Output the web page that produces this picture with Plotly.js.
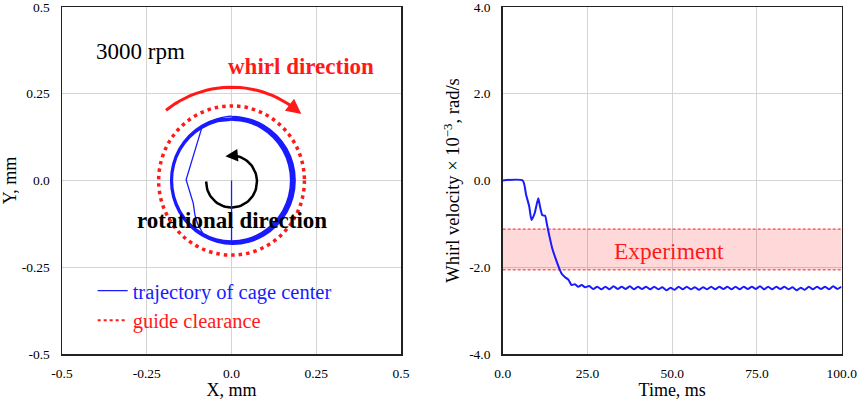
<!DOCTYPE html>
<html><head><meta charset="utf-8">
<script src="https://cdn.plot.ly/plotly-3.0.1.min.js"></script>
<style>html,body{margin:0;padding:0;background:#fff}#chart{width:858px;height:400px}</style>
</head><body><div id="chart"></div>
<script>
// ---------- Left panel: cage-center trajectory (mm) ----------
const transientX = [0, 0, 0, -0.040, -0.080, -0.100, -0.108, -0.113, -0.134, -0.088, -0.050, 0.000];
const transientY = [0, -0.050, -0.178, -0.175, -0.160, -0.125, -0.099, -0.065, 0.002, 0.151, 0.172, 0.176];
// steady orbits, sampled clockwise (angle in degrees), radius and x-shift per orbit
const orbitAnglesDeg = [90, 75, 60, 45, 30, 15, 0, -15, -30, -45, -60, -75, -90, -105, -120, -135, -150, -165, -180, -195, -210, -225, -240, -255, -270];
const orbitRadius = [0.174, 0.176, 0.178, 0.180, 0.182, 0.184, 0.179];
const orbitShiftX = [0.000, 0.001, 0.002, 0.003, 0.004, 0.004, 0.003];
const guideRadius = 0.215;
const xyTickVals = [-0.5, -0.25, 0, 0.25, 0.5];
const xyTickText = ['-0.5', '-0.25', '0.0', '0.25', '0.5'];

// ---------- Right panel: whirl velocity ----------
const timeMs = [0, 5.9, 6.9, 7.8, 8.5, 9.4, 10.5, 11.0, 11.7, 12.5, 13.0, 13.8, 14.6, 15.7, 16.7, 17.5, 18.4, 19.4, 20.3, 21.3, 22.3, 23.3, 24.3,
  25.5, 26.7, 27.9, 29.1, 30.3, 31.5, 32.7, 33.9, 35.1, 36.3,
  37.5, 38.7, 39.9, 41.1, 42.3, 43.5, 44.7, 45.9, 47.1, 48.3,
  49.5, 50.7, 51.9, 53.1, 54.3, 55.5, 56.7, 57.9, 59.1, 60.3,
  61.5, 62.7, 63.9, 65.1, 66.3, 67.5, 68.7, 69.9, 71.1, 72.3,
  73.5, 74.7, 75.9, 77.1, 78.3, 79.5, 80.7, 81.9, 83.1, 84.3,
  85.5, 86.7, 87.9, 89.1, 90.3, 91.5, 92.7, 93.9, 95.1, 96.3,
  97.5, 98.7, 99.9];
const whirlVel = [0, 0, -0.33, -0.59, -0.91, -0.76, -0.41, -0.60, -0.80, -0.81, -0.99, -1.29, -1.56, -1.82, -2.03, -2.16, -2.23, -2.29, -2.41, -2.39, -2.45, -2.41, -2.46,
  -2.43, -2.50, -2.45, -2.51, -2.45, -2.51, -2.44, -2.50, -2.45, -2.50,
  -2.44, -2.51, -2.45, -2.50, -2.45, -2.51, -2.45, -2.51, -2.46, -2.53,
  -2.47, -2.52, -2.45, -2.51, -2.45, -2.51, -2.46, -2.52, -2.46, -2.51,
  -2.45, -2.51, -2.45, -2.50, -2.45, -2.51, -2.45, -2.51, -2.45, -2.50,
  -2.45, -2.50, -2.44, -2.51, -2.45, -2.51, -2.45, -2.50, -2.45, -2.51,
  -2.46, -2.53, -2.47, -2.52, -2.45, -2.51, -2.45, -2.50, -2.45, -2.51,
  -2.44, -2.50, -2.45];
const expLow = -2.06, expHigh = -1.12;
const expRange = [0, 100];
const tTickVals = [0, 25, 50, 75, 100];
const tTickText = ['0.0', '25.0', '50.0', '75.0', '100.0'];
const vTickVals = [-4, -2, 0, 2, 4];
const vTickText = ['-4.0', '-2.0', '0.0', '2.0', '4.0'];

// ---------- build ----------
const FONT = 'Liberation Serif';
const BLUE = '#1a1aff', RED = '#ff1a1a';
const rad = d => d * Math.PI / 180;

const orbitX = [], orbitY = [];
orbitRadius.forEach((r, i) => {
  orbitAnglesDeg.forEach(a => { orbitX.push(orbitShiftX[i] + r * Math.cos(rad(a))); orbitY.push(r * Math.sin(rad(a))); });
});

// decorative direction arrows (geometry only)
function arc(cx, cy, r, a0, a1, step) {
  const xs = [], ys = [];
  const n = Math.round(Math.abs(a1 - a0) / step);
  for (let k = 0; k <= n; k++) { const a = a0 + (a1 - a0) * k / n; xs.push(cx + r * Math.cos(rad(a))); ys.push(cy + r * Math.sin(rad(a))); }
  return {xs, ys};
}
const whirlArc = {cx: 0, cy: -0.045, r: 0.314, a0: 128, a1: 55, tip: 49};
const rotArc = {cx: 0, cy: -0.003, r: 0.075, a0: -180, a1: 88, tip: 104};
const wa = arc(whirlArc.cx, whirlArc.cy, whirlArc.r, whirlArc.a0, whirlArc.a1, 3);
const ra = arc(rotArc.cx, rotArc.cy, rotArc.r, rotArc.a0, rotArc.a1, 4);
const pt = (o, a) => [o.cx + o.r * Math.cos(rad(a)), o.cy + o.r * Math.sin(rad(a))];

const span = (c, t) => '<span style="color:' + c + ';font-family:' + FONT + '">' + t + '</span>';

const traces = [
  {x: wa.xs, y: wa.ys, xaxis: 'x', yaxis: 'y', mode: 'lines', line: {color: RED, width: 3}, showlegend: false, hoverinfo: 'skip'},
  {x: ra.xs, y: ra.ys, xaxis: 'x', yaxis: 'y', mode: 'lines', line: {color: '#000', width: 2.5}, showlegend: false, hoverinfo: 'skip'},
  {x: transientX, y: transientY, xaxis: 'x', yaxis: 'y', mode: 'lines', line: {color: BLUE, width: 1.3}, showlegend: false},
  {x: orbitX, y: orbitY, xaxis: 'x', yaxis: 'y', mode: 'lines', line: {color: BLUE, width: 1.2, shape: 'spline', smoothing: 1},
   name: span(BLUE, 'trajectory of cage center')},
  {x: [null], y: [null], xaxis: 'x', yaxis: 'y', mode: 'lines', line: {color: RED, width: 2, dash: 'dot'},
   name: span(RED, 'guide clearance')},
  {x: expRange, y: [expLow, expLow], xaxis: 'x2', yaxis: 'y2', mode: 'lines', line: {color: RED, width: 1, dash: '3px,2px'}, showlegend: false},
  {x: expRange, y: [expHigh, expHigh], xaxis: 'x2', yaxis: 'y2', mode: 'lines', line: {color: RED, width: 1, dash: '3px,2px'},
   fill: 'tonexty', fillcolor: 'rgba(255,0,0,0.15)', showlegend: false},
  {x: timeMs, y: whirlVel, xaxis: 'x2', yaxis: 'y2', mode: 'lines', line: {color: BLUE, width: 2, shape: 'spline', smoothing: 0.6}, showlegend: false}
];

const axBase = {showgrid: true, gridcolor: '#d4d4d4', gridwidth: 1, zeroline: false, showline: true, mirror: true,
  linecolor: '#222', linewidth: 1.5, ticks: '', tickmode: 'array', tickfont: {family: FONT, size: 13.5, color: '#000'},
  ticklabeloverflow: 'allow', automargin: false, fixedrange: true};

const wTip = pt(whirlArc, whirlArc.tip), wTail = pt(whirlArc, whirlArc.a1 + 2);
const rTip = pt(rotArc, rotArc.tip), rTail = pt(rotArc, rotArc.a1 - 2);

const layout = {
  width: 858, height: 400, margin: {l: 0, r: 0, t: 7, b: 46},
  paper_bgcolor: '#fff', plot_bgcolor: '#fff',
  font: {family: FONT, color: '#000'},
  xaxis: Object.assign({}, axBase, {domain: [0.0723, 0.4674], range: [-0.5, 0.5], tickvals: xyTickVals, ticktext: xyTickText,
    anchor: 'y', ticklabelstandoff: 6, title: {text: 'X, mm', font: {family: FONT, size: 18}, standoff: 2}}),
  yaxis: Object.assign({}, axBase, {domain: [0, 1], range: [-0.5, 0.5], tickvals: xyTickVals, ticktext: xyTickText,
    anchor: 'x', ticklabelstandoff: 8, title: {text: 'Y, mm', font: {family: FONT, size: 18}, standoff: 6}}),
  xaxis2: Object.assign({}, axBase, {domain: [0.5859, 0.981], range: [0, 100], tickvals: tTickVals, ticktext: tTickText,
    anchor: 'y2', ticklabelstandoff: 6, title: {text: 'Time, ms', font: {family: FONT, size: 18}, standoff: 2}}),
  yaxis2: Object.assign({}, axBase, {domain: [0, 1], range: [-4, 4], tickvals: vTickVals, ticktext: vTickText,
    anchor: 'x2', ticklabelstandoff: 8, title: {text: 'Whirl velocity × 10<sup>−3</sup>, rad/s', font: {family: FONT, size: 18.5}, standoff: 4}}),
  shapes: [
    {type: 'circle', xref: 'x', yref: 'y', x0: -guideRadius, x1: guideRadius, y0: -guideRadius, y1: guideRadius,
     line: {color: RED, width: 3.5, dash: '3.5px,4px'}, layer: 'above'}
  ],
  legend: {x: 0.108, y: 0.24, xanchor: 'left', yanchor: 'top', bgcolor: 'rgba(0,0,0,0)', borderwidth: 0,
    font: {family: FONT, size: 20.5}, tracegroupgap: 0, traceorder: 'normal'},
  annotations: [
    {xref: 'x', yref: 'y', x: -0.27, y: 0.371, text: '3000 rpm', showarrow: false, font: {family: FONT, size: 23, color: '#000'}},
    {xref: 'x', yref: 'y', x: 0.206, y: 0.328, text: '<b>whirl direction</b>', showarrow: false, font: {family: FONT, size: 23, color: RED}},
    {xref: 'x', yref: 'y', x: 0.0, y: -0.116, text: '<b>rotational direction</b>', showarrow: false, font: {family: FONT, size: 23, color: '#000'}},
    {xref: 'x2', yref: 'y2', x: 49, y: -1.62, text: 'Experiment', showarrow: false, font: {family: FONT, size: 23.5, color: RED}},
    {xref: 'x', yref: 'y', axref: 'x', ayref: 'y', x: wTip[0], y: wTip[1], ax: wTail[0], ay: wTail[1], text: '',
     showarrow: true, arrowhead: 2, arrowsize: 1, arrowwidth: 3, arrowcolor: RED},
    {xref: 'x', yref: 'y', axref: 'x', ayref: 'y', x: rTip[0], y: rTip[1], ax: rTail[0], ay: rTail[1], text: '',
     showarrow: true, arrowhead: 2, arrowsize: 1, arrowwidth: 2.5, arrowcolor: '#000'}
  ]
};

Plotly.newPlot('chart', traces, layout, {displayModeBar: false, staticPlot: true});
</script>
</body></html>
